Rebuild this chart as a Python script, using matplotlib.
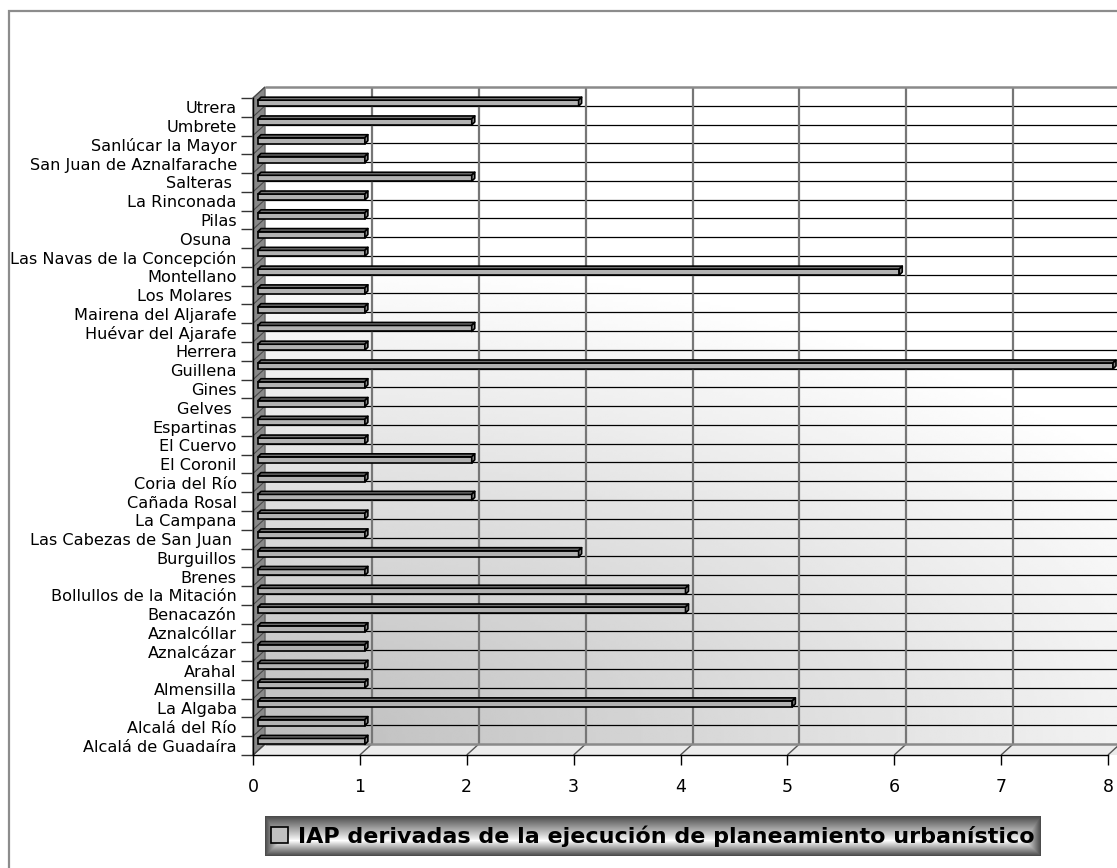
#!/usr/bin/env python3
"""Horizontal 3-D style bar chart: IAP per municipality."""

import matplotlib

matplotlib.use("Agg")
import matplotlib.pyplot as plt
import numpy as np
from matplotlib.collections import LineCollection, PolyCollection
from matplotlib.patches import Patch, Polygon, Rectangle
from matplotlib.transforms import offset_copy


# bottom to top
MUNICIPIOS = [
    "Alcalá de Guadaíra",
    "Alcalá del Río",
    "La Algaba",
    "Almensilla",
    "Arahal",
    "Aznalcázar",
    "Aznalcóllar",
    "Benacazón",
    "Bollullos de la Mitación",
    "Brenes",
    "Burguillos",
    "Las Cabezas de San Juan ",
    "La Campana",
    "Cañada Rosal",
    "Coria del Río",
    "El Coronil",
    "El Cuervo",
    "Espartinas",
    "Gelves ",
    "Gines",
    "Guillena",
    "Herrera",
    "Huévar del Ajarafe",
    "Mairena del Aljarafe",
    "Los Molares ",
    "Montellano",
    "Las Navas de la Concepción",
    "Osuna ",
    "Pilas",
    "La Rinconada",
    "Salteras ",
    "San Juan de Aznalfarache",
    "Sanlúcar la Mayor",
    "Umbrete",
    "Utrera",
]
IAP = [1, 1, 5, 1, 1, 1, 1, 4, 4, 1, 3, 1, 1, 2, 1, 2, 1, 1, 1, 1,
       8, 1, 2, 1, 1, 6, 1, 1, 1, 1, 2, 1, 1, 2, 3]
SERIE = "IAP derivadas de la ejecución de planeamiento urbanístico"
X_TICKS = [0, 1, 2, 3, 4, 5, 6, 7, 8]

FIG_W, FIG_H, DPI = 1117, 868, 100
# front plane of the box, in pixels from the top-left corner
BOX_LEFT, BOX_RIGHT, BOX_TOP, BOX_BOTTOM = 253, 1108, 98, 755
DEPTH = (12, 11)          # shift of the back wall, px
BAR_SHIFT = (5, 4.2)      # bars sit half way into the box
BAR_DEPTH = (3, 3.0)
BAR_FACE = 6.0            # px
LEGEND_BOX = (265, 1041, 816, 856)


def wall_gradient(nx=320, ny=240):
    u = np.linspace(0, 1, nx)[None, :]
    v = np.linspace(0, 1, ny)[:, None]
    dark = np.clip(1 - np.hypot(u / 1.2, v / 0.75), 0, 1)
    return 1 - 0.26 * dark


def legend_gradient(nx, ny):
    v = np.linspace(0, 1, ny)[:, None]
    sv = np.where(v < 0.62, (0.62 - v) / 0.62, (v - 0.62) / 0.38)
    x = np.arange(nx)[None, :]
    sh = np.clip(1 - np.minimum(x, nx - 1 - x) / 16, 0, 1)
    s = np.maximum(sv, sh)
    return 1 - 0.7 * s ** 0.95


def main() -> None:
    fig = plt.figure(figsize=(FIG_W / DPI, FIG_H / DPI), dpi=DPI)
    ax = fig.add_axes([
        BOX_LEFT / FIG_W,
        1 - BOX_BOTTOM / FIG_H,
        (BOX_RIGHT - BOX_LEFT) / FIG_W,
        (BOX_BOTTOM - BOX_TOP) / FIG_H,
    ])
    ax.patch.set_visible(False)

    n = len(MUNICIPIOS)
    xmax = X_TICKS[-1]
    y0, y1 = -0.5, n - 0.5
    ux = xmax / (BOX_RIGHT - BOX_LEFT)
    uy = n / (BOX_BOTTOM - BOX_TOP)
    dx, dy = DEPTH[0] * ux, DEPTH[1] * uy
    reach = xmax + 0.3  # walls run off the right edge
    bounds = np.arange(n + 1) - 0.5
    ypos = np.arange(n)

    # back wall
    back = offset_copy(ax.transData, fig=fig, x=DEPTH[0], y=DEPTH[1], units="dots")
    ax.imshow(wall_gradient(), cmap="gray", vmin=0, vmax=1, origin="lower",
              extent=(0, reach, y0, y1), aspect="auto", interpolation="bilinear",
              transform=back, clip_on=False, zorder=0)
    ax.hlines(bounds[1:-1], 0, reach, colors="black", lw=0.9,
              transform=back, clip_on=False, zorder=1)
    ax.vlines(X_TICKS[1:], y0, y1, colors="#767676", lw=1.6,
              transform=back, clip_on=False, zorder=1)

    # floor
    ax.add_patch(Polygon([(0, y0), (reach, y0), (reach + dx, y0 + dy), (dx, y0 + dy)],
                         closed=True, facecolor="#ececec", edgecolor="none",
                         clip_on=False, zorder=2))
    ax.add_collection(LineCollection([[(x, y0), (x + dx, y0 + dy)] for x in X_TICKS],
                                     colors="#555555", lw=1, clip_on=False, zorder=2))

    # left wall
    ax.add_patch(Polygon([(0, y0), (0, y1), (dx, y1 + dy), (dx, y0 + dy)],
                         closed=True, facecolor="#888888", edgecolor="#666666",
                         lw=1, clip_on=False, zorder=2))
    ax.add_collection(LineCollection([[(0, b), (dx, b + dy)] for b in bounds],
                                     colors="#4a4a4a", lw=0.8, clip_on=False, zorder=2))
    ax.hlines([y0, y1], 0, reach, colors="#8a8a8a", lw=1.8,
              transform=back, clip_on=False, zorder=2.2)

    # bars: front face, top face and end cap
    face = offset_copy(ax.transData, fig=fig, x=BAR_SHIFT[0], y=BAR_SHIFT[1], units="dots")
    bh = BAR_FACE * uy
    tx, ty = BAR_DEPTH[0] * ux, BAR_DEPTH[1] * uy
    ax.barh(ypos, IAP, height=bh, left=0, color="#b2b2b2", edgecolor="black",
            lw=1.2, transform=face, clip_on=False, zorder=4)
    tops, caps = [], []
    for y, v in zip(ypos, IAP):
        lo, hi = y - bh / 2, y + bh / 2
        tops.append([(0, hi), (v, hi), (v + tx, hi + ty), (tx, hi + ty)])
        caps.append([(v, lo), (v, hi), (v + tx, hi + ty), (v + tx, lo + ty)])
    ax.add_collection(PolyCollection(tops, facecolors="#747474", edgecolors="black",
                                     lw=1.2, transform=face, clip_on=False, zorder=4))
    ax.add_collection(PolyCollection(caps, facecolors="#888888", edgecolors="black",
                                     lw=1.2, transform=face, clip_on=False, zorder=4))

    ax.set_xlim(0, xmax)
    ax.set_ylim(y0, y1)
    ax.set_xticks(X_TICKS, [str(t) for t in X_TICKS])
    ax.set_yticks(ypos, MUNICIPIOS)
    ax.set_yticks(bounds, minor=True)
    ax.tick_params(axis="y", which="major", length=0, pad=11.7, labelsize=11.6)
    ax.tick_params(axis="y", which="minor", length=8.6, width=1, color="#333333")
    ax.tick_params(axis="x", length=7.2, width=1, color="black", pad=9, labelsize=12.5)
    for side in ("top", "right"):
        ax.spines[side].set_visible(False)
    for side in ("left", "bottom"):
        ax.spines[side].set_linewidth(1)

    # legend on a shaded strip
    lx0, lx1, ly0, ly1 = LEGEND_BOX
    lax = fig.add_axes([lx0 / FIG_W, 1 - ly1 / FIG_H, (lx1 - lx0) / FIG_W, (ly1 - ly0) / FIG_H])
    lax.imshow(legend_gradient(lx1 - lx0, ly1 - ly0), cmap="gray", vmin=0, vmax=1,
               aspect="auto", interpolation="bilinear")
    lax.set_axis_off()
    lax.legend(handles=[Patch(facecolor="#c0c0c0", edgecolor="black", lw=1.2)],
               labels=[SERIE], loc="center", frameon=False,
               prop={"family": "DejaVu Sans", "weight": "bold", "size": 16},
               handlelength=0.75, handleheight=0.75, handletextpad=0.45,
               borderpad=0, borderaxespad=0)

    # chart frame
    fig.add_artist(Rectangle((9.5 / FIG_W, -0.05), 1.1, 1 - 10.5 / FIG_H + 0.05,
                             transform=fig.transFigure, fill=False,
                             edgecolor="#8c8c8c", lw=1.6))

    fig.savefig("out.png", dpi=DPI)
    plt.close(fig)


if __name__ == "__main__":
    main()
